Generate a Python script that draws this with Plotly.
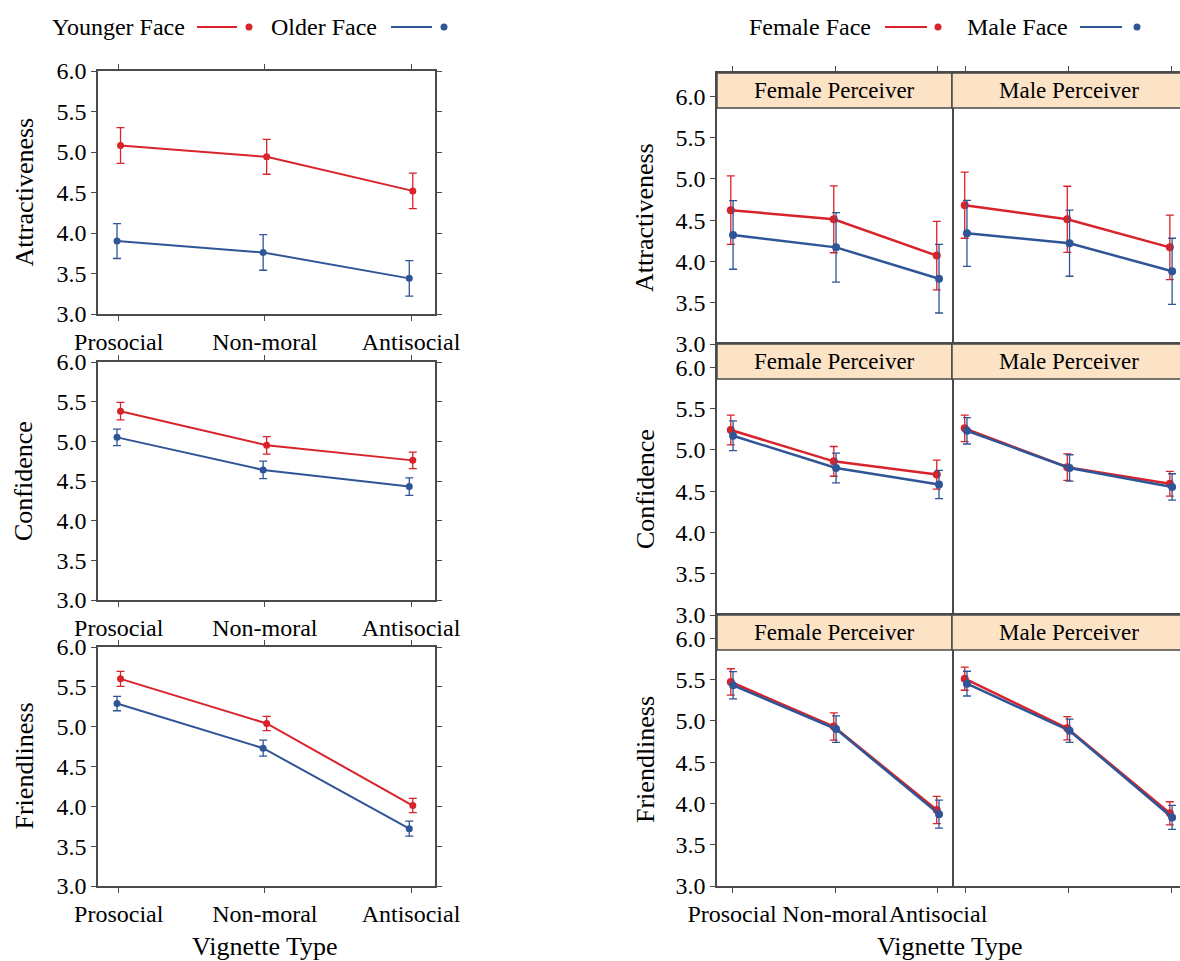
import plotly.graph_objects as go

# ---------------- data ----------------
vignettes = ["Prosocial", "Non-moral", "Antisocial"]
measures = ["Attractiveness", "Confidence", "Friendliness"]

# Left: face age
younger_mean = {
    "Attractiveness": [5.08, 4.94, 4.52],
    "Confidence": [5.38, 4.95, 4.76],
    "Friendliness": [5.60, 5.04, 4.01],
}
younger_err = {
    "Attractiveness": [0.22, 0.215, 0.22],
    "Confidence": [0.11, 0.11, 0.105],
    "Friendliness": [0.095, 0.09, 0.09],
}
older_mean = {
    "Attractiveness": [3.90, 3.76, 3.44],
    "Confidence": [5.05, 4.64, 4.43],
    "Friendliness": [5.29, 4.73, 3.72],
}
older_err = {
    "Attractiveness": [0.215, 0.22, 0.22],
    "Confidence": [0.105, 0.11, 0.11],
    "Friendliness": [0.09, 0.10, 0.095],
}

# Right: face gender by perceiver gender
perceivers = ["Female Perceiver", "Male Perceiver"]
female_face_mean = {
    ("Attractiveness", "Female Perceiver"): [4.62, 4.51, 4.07],
    ("Attractiveness", "Male Perceiver"): [4.68, 4.51, 4.17],
    ("Confidence", "Female Perceiver"): [5.24, 4.86, 4.70],
    ("Confidence", "Male Perceiver"): [5.26, 4.79, 4.59],
    ("Friendliness", "Female Perceiver"): [5.47, 4.93, 3.92],
    ("Friendliness", "Male Perceiver"): [5.51, 4.91, 3.88],
}
female_face_err = {
    ("Attractiveness", "Female Perceiver"): [0.415, 0.405, 0.415],
    ("Attractiveness", "Male Perceiver"): [0.40, 0.40, 0.39],
    ("Confidence", "Female Perceiver"): [0.18, 0.18, 0.175],
    ("Confidence", "Male Perceiver"): [0.16, 0.16, 0.15],
    ("Friendliness", "Female Perceiver"): [0.16, 0.165, 0.165],
    ("Friendliness", "Male Perceiver"): [0.14, 0.14, 0.14],
}
male_face_mean = {
    ("Attractiveness", "Female Perceiver"): [4.32, 4.17, 3.79],
    ("Attractiveness", "Male Perceiver"): [4.34, 4.22, 3.88],
    ("Confidence", "Female Perceiver"): [5.17, 4.78, 4.58],
    ("Confidence", "Male Perceiver"): [5.23, 4.78, 4.55],
    ("Friendliness", "Female Perceiver"): [5.43, 4.90, 3.87],
    ("Friendliness", "Male Perceiver"): [5.45, 4.88, 3.83],
}
male_face_err = {
    ("Attractiveness", "Female Perceiver"): [0.415, 0.42, 0.415],
    ("Attractiveness", "Male Perceiver"): [0.40, 0.40, 0.40],
    ("Confidence", "Female Perceiver"): [0.18, 0.18, 0.17],
    ("Confidence", "Male Perceiver"): [0.16, 0.16, 0.16],
    ("Friendliness", "Female Perceiver"): [0.165, 0.16, 0.17],
    ("Friendliness", "Male Perceiver"): [0.15, 0.14, 0.145],
}

y_ticks = [3.0, 3.5, 4.0, 4.5, 5.0, 5.5, 6.0]

# ---------------- style ----------------
W, H = 1180, 961
RED = "#D8232A"
BLUE = "#2F5597"
STRIP = "#FCE3C6"
AXC = "#4a4a4a"
FONT = "Liberation Serif, Times New Roman, serif"
TICK_SIZE = 24
TITLE_SIZE = 26

def px(x):
    return x / W

def py(y):
    return 1 - y / H

fig = go.Figure()
layout = dict(
    width=W, height=H, margin=dict(l=0, r=0, t=0, b=0, autoexpand=False),
    paper_bgcolor="white", plot_bgcolor="white", showlegend=False,
    font=dict(family=FONT, size=TICK_SIZE, color="black"),
)
shapes = []
annotations = []
xs = list(range(len(vignettes)))

def add_series(ax, means, errs, color, dodge, lw, ms):
    fig.add_trace(go.Scatter(
        x=[v + dodge for v in xs], y=means,
        mode="lines+markers",
        line=dict(color=color, width=lw),
        marker=dict(color=color, size=ms),
        error_y=dict(type="data", array=errs, color=color, thickness=1.3, width=4),
        xaxis="x" + ax, yaxis="y" + ax, hoverinfo="skip", cliponaxis=False,
    ))

# ---------------- left column ----------------
left_x = (98, 435)
left_y = [(71, 314), (362, 600), (647, 886)]
ax_i = 1
for r, m in enumerate(measures):
    a = "" if ax_i == 1 else str(ax_i)
    add_series(a, younger_mean[m], younger_err[m], RED, 0.012, 2, 7)
    add_series(a, older_mean[m], older_err[m], BLUE, -0.012, 2, 7)
    top, bot = left_y[r]
    layout["xaxis" + a] = dict(
        domain=[px(left_x[0]), px(left_x[1])], anchor="y" + a,
        range=[-0.142, 2.164], tickvals=xs, ticktext=vignettes, tickangle=0,
        ticks="outside", ticklen=5, tickcolor=AXC, showline=True, linecolor=AXC,
        linewidth=1.5, mirror="ticks", showgrid=False, zeroline=False,
        tickfont=dict(size=TICK_SIZE), automargin=False,
    )
    layout["yaxis" + a] = dict(
        domain=[py(bot), py(top)], anchor="x" + a, range=[3, 6],
        tickvals=y_ticks, tickformat=".1f", ticks="outside", ticklen=5,
        tickcolor=AXC, showline=True, linecolor=AXC, linewidth=1.5,
        mirror="ticks", showgrid=False, zeroline=False,
        tickfont=dict(size=TICK_SIZE), automargin=False,
    )
    annotations.append(dict(
        text=m, x=px(24), y=py((top + bot) / 2), xref="paper", yref="paper",
        textangle=-90, showarrow=False, font=dict(size=TITLE_SIZE),
        xanchor="center", yanchor="middle"))
    ax_i += 1

annotations.append(dict(text="Vignette Type", x=px(265), y=py(946), xref="paper",
                        yref="paper", showarrow=False, font=dict(size=TITLE_SIZE),
                        xanchor="center", yanchor="middle"))

# ---------------- right column ----------------
facet_x = [(717, 952), (952, 1180)]
facet_range = [[-0.146, 2.136], [-0.136, 2.087]]
row_y = [(73, 344), (344, 615), (615, 886)]
STRIP_H = 35
y_top_val = 3 + 271 / 82.6
for r, m in enumerate(measures):
    top, bot = row_y[r]
    for f, p in enumerate(perceivers):
        a = str(ax_i)
        add_series(a, female_face_mean[(m, p)], female_face_err[(m, p)], RED, -0.012, 2.5, 8)
        add_series(a, male_face_mean[(m, p)], male_face_err[(m, p)], BLUE, 0.01, 2.5, 8)
        xa = dict(
            domain=[px(facet_x[f][0]), px(facet_x[f][1])], anchor="y" + a,
            range=facet_range[f], tickvals=xs, ticktext=vignettes, tickangle=0,
            showline=True, linecolor=AXC, linewidth=1.5, mirror=True,
            showgrid=False, zeroline=False, tickfont=dict(size=TICK_SIZE),
            ticklen=5, tickcolor=AXC, automargin=False,
        )
        if r == 0:
            xa.update(side="top", ticks="outside", showticklabels=False)
        elif r == 2:
            xa.update(side="bottom", ticks="outside", showticklabels=(f == 0))
        else:
            xa.update(ticks="", showticklabels=False)
        layout["xaxis" + a] = xa
        ya = dict(
            domain=[py(bot), py(top)], anchor="x" + a, range=[3, y_top_val],
            tickvals=y_ticks, tickformat=".1f", showgrid=False, zeroline=False,
            tickfont=dict(size=TICK_SIZE), ticklen=5, tickcolor=AXC,
            linecolor=AXC, linewidth=1.5, automargin=False,
        )
        if f == 0:
            ya.update(ticks="outside", showticklabels=True, showline=True, mirror=True)
        else:
            ya.update(ticks="", showticklabels=False, showline=False)
        layout["yaxis" + a] = ya
        # strip
        shapes.append(dict(type="rect", xref="paper", yref="paper",
                           x0=px(facet_x[f][0]), x1=px(facet_x[f][1]) + (0.01 if f == 1 else 0),
                           y0=py(top + STRIP_H), y1=py(top),
                           fillcolor=STRIP, line=dict(color=AXC, width=1.5),
                           layer="above"))
        annotations.append(dict(text=p, x=px((facet_x[f][0] + (facet_x[f][1] if f == 0 else 1186)) / 2),
                                y=py(top + STRIP_H / 2), xref="paper", yref="paper",
                                showarrow=False, font=dict(size=23),
                                xanchor="center", yanchor="middle"))
        ax_i += 1
    annotations.append(dict(
        text=m, x=px(645), y=py((top + STRIP_H + bot) / 2 - 8), xref="paper", yref="paper",
        textangle=-90, showarrow=False, font=dict(size=TITLE_SIZE),
        xanchor="center", yanchor="middle"))

annotations.append(dict(text="Vignette Type", x=px(950), y=py(946), xref="paper",
                        yref="paper", showarrow=False, font=dict(size=TITLE_SIZE),
                        xanchor="center", yanchor="middle"))

# ---------------- legends ----------------
def legend_item(label, text_right, line_x0, line_x1, dot_x, color, yc=27):
    annotations.append(dict(text=label, x=px(text_right), y=py(yc), xref="paper",
                            yref="paper", showarrow=False, font=dict(size=24),
                            xanchor="right", yanchor="middle"))
    shapes.append(dict(type="line", xref="paper", yref="paper",
                       x0=px(line_x0), x1=px(line_x1), y0=py(yc), y1=py(yc),
                       line=dict(color=color, width=2)))
    shapes.append(dict(type="circle", xref="paper", yref="paper",
                       x0=px(dot_x - 3.5), x1=px(dot_x + 3.5),
                       y0=py(yc + 3.5), y1=py(yc - 3.5),
                       fillcolor=color, line=dict(color=color, width=0)))

legend_item("Younger Face", 187, 197, 237, 249, RED)
legend_item("Older Face", 379, 391, 432, 444, BLUE)
legend_item("Female Face", 873, 885, 927, 938, RED)
legend_item("Male Face", 1070, 1080, 1122, 1137, BLUE)

layout["shapes"] = shapes
layout["annotations"] = annotations
fig.update_layout(**layout)
fig.write_html(
    "out.html",
    config={"displayModeBar": False},
    post_script="document.body.style.margin='0';document.body.style.overflow='hidden';",
)
